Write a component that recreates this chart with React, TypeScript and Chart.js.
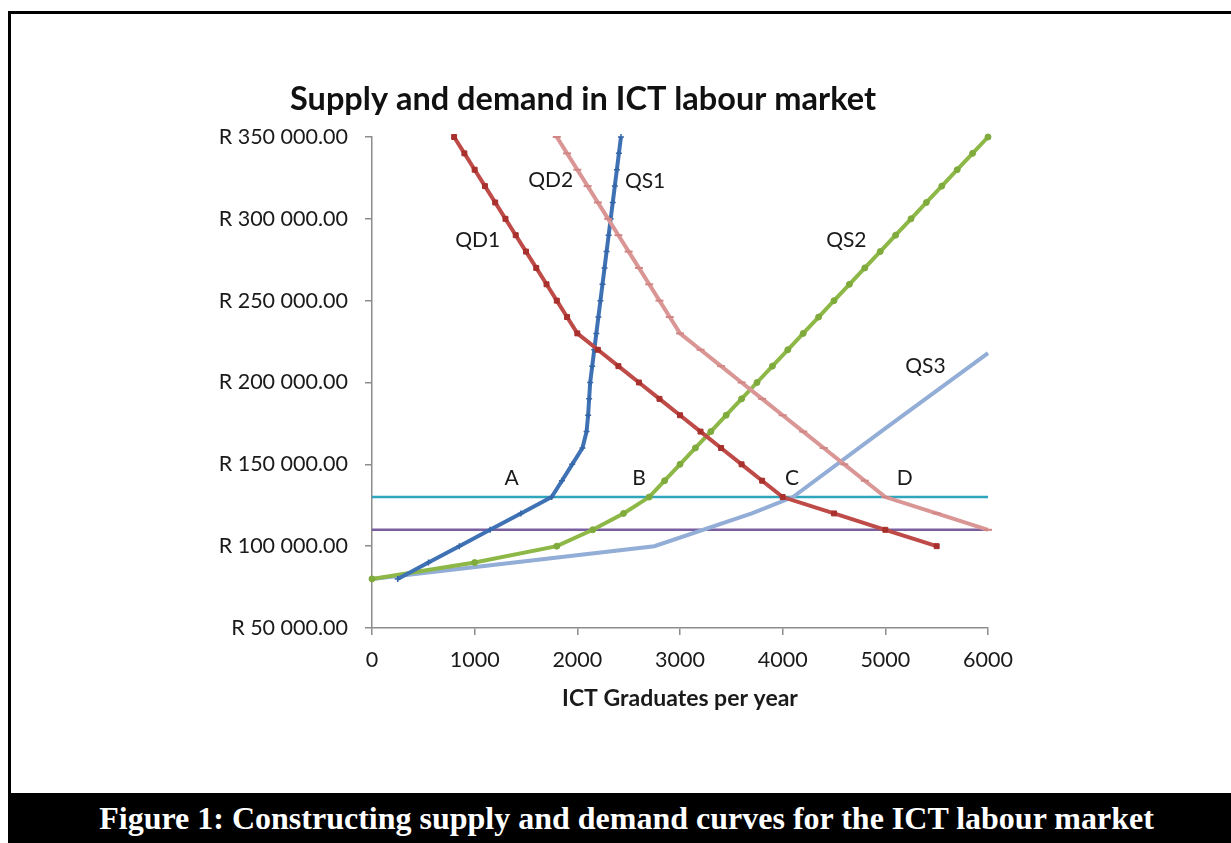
import React, { useEffect, useRef } from 'react';
import { Chart, registerables } from 'chart.js';

Chart.register(...registerables);

// ---- Data ----
const qd1Qty = [800, 900, 1000, 1100, 1200, 1300, 1400, 1500, 1600, 1700, 1800, 1900, 2000, 2200, 2400, 2600, 2800, 3000, 3200, 3400, 3600, 3800, 4000, 4500, 5000, 5500];
const qd1Price = [350000, 340000, 330000, 320000, 310000, 300000, 290000, 280000, 270000, 260000, 250000, 240000, 230000, 220000, 210000, 200000, 190000, 180000, 170000, 160000, 150000, 140000, 130000, 120000, 110000, 100000];

const qd2Qty = [1800, 1900, 2000, 2100, 2200, 2300, 2400, 2500, 2600, 2700, 2800, 2900, 3000, 3200, 3400, 3600, 3800, 4000, 4200, 4400, 4600, 4800, 5000, 5500, 6000];
const qd2Price = [350000, 340000, 330000, 320000, 310000, 300000, 290000, 280000, 270000, 260000, 250000, 240000, 230000, 220000, 210000, 200000, 190000, 180000, 170000, 160000, 150000, 140000, 130000, 120000, 110000];

const qs1Qty = [250, 550, 850, 1150, 1450, 1750, 1850, 1950, 2050, 2090, 2105, 2115, 2125, 2145, 2165, 2185, 2205, 2225, 2245, 2265, 2285, 2305, 2325, 2345, 2365, 2385, 2405, 2425];
const qs1Price = [80000, 90000, 100000, 110000, 120000, 130000, 140000, 150000, 160000, 170000, 180000, 190000, 200000, 210000, 220000, 230000, 240000, 250000, 260000, 270000, 280000, 290000, 300000, 310000, 320000, 330000, 340000, 350000];

const qs2Qty = [0, 1000, 1800, 2150, 2450, 2700, 2850, 3000, 3150, 3300, 3450, 3600, 3750, 3900, 4050, 4200, 4350, 4500, 4650, 4800, 4950, 5100, 5250, 5400, 5550, 5700, 5850, 6000];
const qs2Price = [80000, 90000, 100000, 110000, 120000, 130000, 140000, 150000, 160000, 170000, 180000, 190000, 200000, 210000, 220000, 230000, 240000, 250000, 260000, 270000, 280000, 290000, 300000, 310000, 320000, 330000, 340000, 350000];

const qs3Qty = [0, 2750, 3700, 4100, 5000, 6000];
const qs3Price = [80000, 100000, 120000, 130000, 172000, 218000];

const wage1Qty = [0, 6000];
const wage1Price = [130000, 130000];
const wage2Qty = [0, 6000];
const wage2Price = [110000, 110000];

const labelTexts = ['QD1', 'QD2', 'QS1', 'QS2', 'QS3', 'A', 'B', 'C', 'D'];
const labelQty = [1030, 1740, 2660, 4620, 5390, 1360, 2600, 4090, 5190];
const labelPrice = [287000, 323500, 323000, 287000, 210000, 141500, 141500, 141500, 141500];

const xTicks = [0, 1000, 2000, 3000, 4000, 5000, 6000];
const yTicks = [50000, 100000, 150000, 200000, 250000, 300000, 350000];

const chartTitle = 'Supply and demand in ICT labour market';
const xTitle = 'ICT Graduates per year';
const caption = 'Figure 1: Constructing supply and demand curves for the ICT labour market';

const zip = (xs: number[], ys: number[]) => xs.map((x, i) => ({ x, y: ys[i] }));

const fmtRand = (v: number) =>
  'R ' + Math.round(v).toString().replace(/\B(?=(\d{3})+(?!\d))/g, ' ') + '.00';

const FONT = 'Lato, "Open Sans", sans-serif';

const labelsPlugin = {
  id: 'curveLabels',
  afterDatasetsDraw(chart: any) {
    const { ctx, scales } = chart;
    ctx.save();
    ctx.font = `21px ${FONT}`;
    ctx.fillStyle = '#1a1a1a';
    ctx.textAlign = 'center';
    ctx.textBaseline = 'middle';
    labelTexts.forEach((t, i) => {
      ctx.fillText(t, scales.x.getPixelForValue(labelQty[i]), scales.y.getPixelForValue(labelPrice[i]));
    });
    ctx.restore();
  },
};

const titlePlugin = {
  id: 'customTitle',
  afterDraw(chart: any) {
    const { ctx } = chart;
    ctx.save();
    ctx.font = `bold 32.5px ${FONT}`;
    ctx.fillStyle = '#111';
    ctx.textAlign = 'center';
    ctx.textBaseline = 'middle';
    ctx.fillText(chartTitle, 583, 100);
    ctx.restore();
  },
};

export default function App() {
  const canvasRef = useRef<HTMLCanvasElement | null>(null);

  useEffect(() => {
    const canvas = canvasRef.current;
    if (!canvas) return;
    const common = { tension: 0, clip: false as any, fill: false };
    const chart = new Chart(canvas, {
      type: 'line',
      data: {
        datasets: [
          {
            ...common,
            label: 'QD1',
            data: zip(qd1Qty, qd1Price),
            borderColor: '#BE4B48',
            borderWidth: 4,
            pointStyle: 'rect',
            pointRadius: 3.5,
            pointBackgroundColor: '#A8302D',
            pointBorderColor: '#A8302D',
            pointBorderWidth: 1,
          },
          {
            ...common,
            label: 'QD2',
            data: zip(qd2Qty, qd2Price),
            borderColor: '#D99694',
            borderWidth: 4,
            pointStyle: 'line',
            pointRadius: 4,
            pointBorderColor: '#D08684',
            pointBorderWidth: 2,
          },
          {
            ...common,
            label: 'QS1',
            data: zip(qs1Qty, qs1Price),
            borderColor: '#3F72B5',
            borderWidth: 4,
            pointStyle: 'cross',
            pointRadius: 3,
            pointBorderColor: '#3566A8',
            pointBorderWidth: 1.5,
          },
          {
            ...common,
            label: 'QS2',
            data: zip(qs2Qty, qs2Price),
            borderColor: '#8DB847',
            borderWidth: 4,
            pointStyle: 'circle',
            pointRadius: 3,
            pointBackgroundColor: '#7FAA3C',
            pointBorderColor: '#7FAA3C',
            pointBorderWidth: 1,
          },
          {
            ...common,
            label: 'QS3',
            data: zip(qs3Qty, qs3Price),
            borderColor: '#92ADD6',
            borderWidth: 4,
            pointRadius: 0,
          },
          {
            ...common,
            label: 'W1',
            data: zip(wage1Qty, wage1Price),
            borderColor: '#2FA6BD',
            borderWidth: 2.5,
            pointRadius: 0,
          },
          {
            ...common,
            label: 'W2',
            data: zip(wage2Qty, wage2Price),
            borderColor: '#7B5E9F',
            borderWidth: 2.5,
            pointRadius: 0,
          },
        ],
      },
      options: {
        animation: false,
        responsive: false,
        events: [],
        layout: { padding: { top: 137, left: 0, right: 243, bottom: 55 } },
        plugins: {
          legend: { display: false },
          tooltip: { enabled: false },
          title: { display: false },
        },
        scales: {
          x: {
            type: 'linear',
            min: 0,
            max: 6000,
            afterBuildTicks: (scale: any) => {
              scale.ticks = xTicks.map((v) => ({ value: v }));
            },
            afterFit: (scale: any) => {
              scale.height = 110;
            },
            ticks: {
              color: '#1a1a1a',
              font: { family: FONT, size: 21.5 },
              padding: 12,
              maxRotation: 0,
              callback: (v: any) => String(v),
            },
            grid: { drawOnChartArea: false, drawTicks: true, tickLength: 7, color: '#8c8c8c', lineWidth: 1.5 },
            border: { display: true, color: '#8c8c8c', width: 1.5 },
            title: {
              display: true,
              text: xTitle,
              color: '#1a1a1a',
              font: { family: FONT, size: 23, weight: 'bold' },
              padding: { top: 0, bottom: 26 },
            },
          },
          y: {
            type: 'linear',
            min: 50000,
            max: 350000,
            afterBuildTicks: (scale: any) => {
              scale.ticks = yTicks.map((v) => ({ value: v }));
            },
            afterFit: (scale: any) => {
              scale.width = 372;
            },
            ticks: {
              color: '#1a1a1a',
              font: { family: FONT, size: 21.5 },
              padding: 17,
              callback: (v: any) => fmtRand(Number(v)),
            },
            grid: { drawOnChartArea: false, drawTicks: true, tickLength: 7, color: '#8c8c8c', lineWidth: 1.5 },
            border: { display: true, color: '#8c8c8c', width: 1.5 },
          },
        },
      },
      plugins: [labelsPlugin, titlePlugin],
    } as any);
    return () => chart.destroy();
  }, []);

  return (
    <div style={{ position: 'absolute', left: 0, top: 0, width: 1231, height: 843, background: '#fff', overflow: 'hidden' }}>
      <div style={{ position: 'absolute', left: 8, top: 11, width: 1223, height: 3, background: '#000' }} />
      <div style={{ position: 'absolute', left: 8, top: 11, width: 3, height: 832, background: '#000' }} />
      <canvas
        ref={canvasRef}
        width={1231}
        height={793}
        style={{ position: 'absolute', left: 0, top: 0, width: 1231, height: 793 }}
      />
      <div
        style={{
          position: 'absolute',
          left: 8,
          top: 793,
          width: 1223,
          height: 50,
          background: '#000',
          color: '#fff',
          fontFamily: '"Liberation Serif", "Times New Roman", serif',
          fontWeight: 'bold',
          fontSize: 32,
          lineHeight: '50px',
          textAlign: 'center',
          paddingLeft: 14,
          boxSizing: 'border-box',
          whiteSpace: 'nowrap',
        }}
      >
        {caption}
      </div>
    </div>
  );
}
